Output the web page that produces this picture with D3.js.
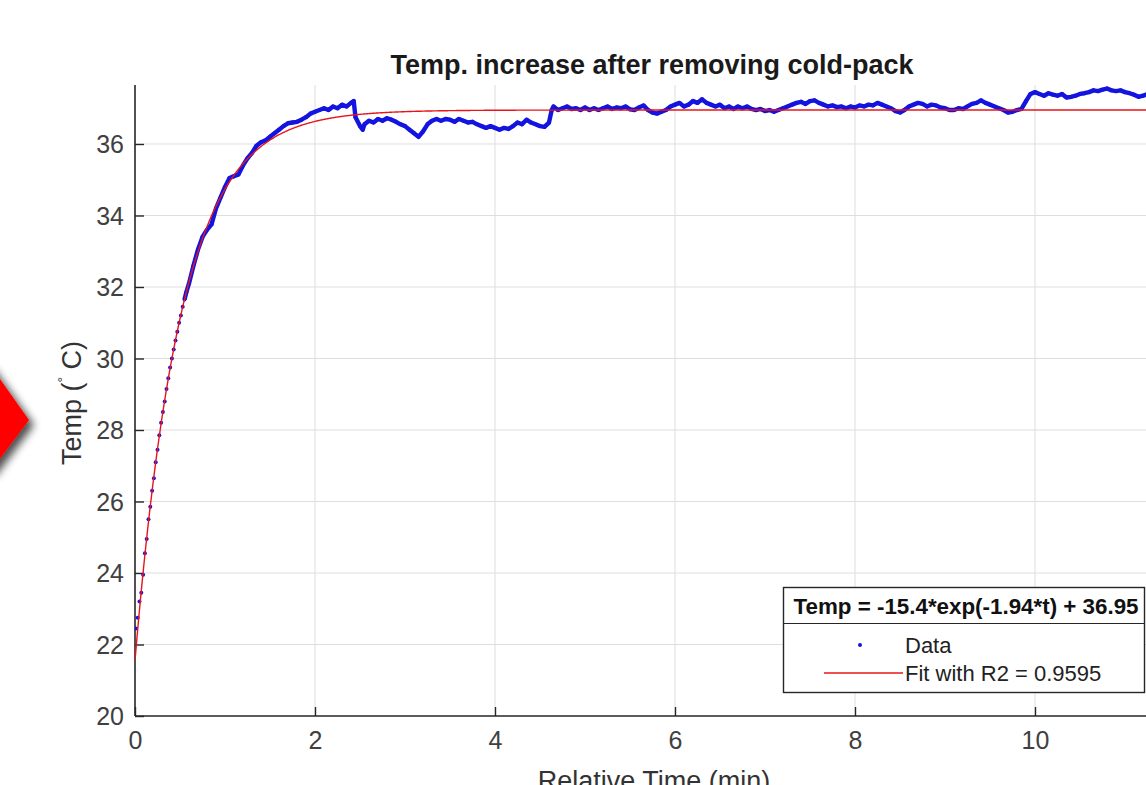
<!DOCTYPE html>
<html><head><meta charset="utf-8">
<script src="https://cdn.jsdelivr.net/npm/d3@7"></script>
<style>body{margin:0;background:#fff;overflow:hidden}svg{display:block}</style>
</head><body>
<svg id="chart" width="1146" height="785"></svg>
<script>
// ---- data ----
const timeMin = [0.01,0.03,0.05,0.07,0.09,0.11,0.13,0.15,0.17,0.19,0.21,0.23,0.25,0.27,0.29,0.31,0.33,0.35,0.37,0.39,0.41,0.43,0.45,0.47,0.49,0.51,0.53,0.55,0.57,
0.60,0.65,0.70,0.75,0.80,0.85,0.90,0.95,1.00,1.05,1.10,1.15,1.20,1.25,1.30,1.35,1.40,1.45,1.50,1.55,1.60,1.65,1.70,1.75,1.80,1.85,1.90,1.95,2.00,2.05,2.10,2.15,2.20,2.25,2.30,2.35,2.40,2.43,
2.45,2.50,2.53,2.55,2.60,2.65,2.70,2.75,2.80,2.85,2.90,2.95,3.00,3.05,3.10,3.15,3.20,3.25,3.30,3.35,3.40,3.45,3.50,3.55,3.60,3.65,3.70,3.75,3.80,3.85,3.90,3.95,4.00,4.05,4.10,4.15,4.20,4.25,4.30,4.35,4.40,4.45,4.50,4.55,4.60,4.63,
4.65,4.70,4.75,4.80,4.85,4.90,4.95,5.00,5.05,5.10,5.15,5.20,5.25,5.30,5.35,5.40,5.45,5.50,5.55,5.60,5.65,5.70,5.75,5.80,5.85,5.90,5.95,6.00,6.05,6.10,6.15,6.20,6.25,6.30,6.35,6.40,6.45,6.50,6.55,6.60,6.65,6.70,6.75,6.80,6.85,6.90,6.95,
7.00,7.05,7.10,7.15,7.20,7.25,7.30,7.35,7.40,7.45,7.50,7.55,7.60,7.65,7.70,7.75,7.80,7.85,7.90,7.95,8.00,8.05,8.10,8.15,8.20,8.25,8.30,8.35,8.40,8.45,8.50,8.55,8.60,8.65,8.70,8.75,8.80,8.85,8.90,8.95,
9.00,9.05,9.10,9.15,9.20,9.25,9.30,9.35,9.40,9.45,9.50,9.55,9.60,9.65,9.70,9.75,9.80,9.85,9.90,9.95,10.00,10.05,10.10,10.15,10.20,10.25,10.30,10.35,10.40,10.45,10.50,10.55,10.60,10.65,10.70,10.75,10.80,10.85,10.90,10.95,11.00,11.05,11.10,11.15,11.20,11.25,11.30];
const tempC = [22.45,22.75,23.2,23.45,23.95,24.55,24.95,25.5,25.85,26.3,26.65,27.1,27.45,27.85,28.2,28.5,28.8,29.15,29.45,29.75,30.0,30.25,30.5,30.75,31.0,31.2,31.45,31.65,31.85,
32.1,32.6,33.05,33.4,33.6,33.75,34.2,34.5,34.8,35.05,35.1,35.15,35.4,35.6,35.75,35.95,36.05,36.1,36.2,36.3,36.4,36.5,36.58,36.6,36.62,36.68,36.75,36.85,36.9,36.95,37.0,36.95,37.05,37.0,37.1,37.05,37.15,37.2,
36.75,36.5,36.4,36.55,36.65,36.6,36.7,36.65,36.72,36.68,36.62,36.55,36.5,36.4,36.3,36.2,36.35,36.55,36.65,36.7,36.65,36.7,36.68,36.62,36.7,36.65,36.6,36.62,36.55,36.5,36.45,36.5,36.45,36.4,36.45,36.42,36.5,36.6,36.55,36.68,36.6,36.55,36.5,36.48,36.6,36.95,
37.05,36.95,37.0,37.05,36.98,37.0,36.95,37.02,36.95,37.0,36.95,37.0,37.05,36.98,37.02,37.0,37.05,36.97,36.95,37.02,37.08,36.95,36.88,36.85,36.9,36.95,37.05,37.1,37.15,37.05,37.1,37.2,37.15,37.25,37.15,37.1,37.05,37.1,37.0,37.05,36.98,37.05,37.0,37.05,36.98,36.95,36.98,
36.92,36.95,36.9,36.95,37.0,37.05,37.1,37.15,37.18,37.12,37.2,37.22,37.15,37.1,37.05,37.08,37.03,37.05,37.0,37.05,37.02,37.08,37.05,37.1,37.08,37.15,37.1,37.05,37.0,36.92,36.88,36.95,37.05,37.1,37.15,37.12,37.05,37.1,37.08,37.02,
37.0,36.95,36.95,37.0,36.98,37.05,37.12,37.15,37.22,37.15,37.1,37.05,37.0,36.95,36.88,36.9,36.95,36.98,37.2,37.4,37.45,37.4,37.35,37.42,37.38,37.35,37.4,37.3,37.32,37.35,37.4,37.42,37.45,37.5,37.48,37.52,37.55,37.5,37.48,37.5,37.45,37.42,37.38,37.32,37.35,37.4,37.38];
// fit shown in the legend: Temp = a*exp(b*t) + c
const fitA = -15.4, fitB = -1.94, fitC = 36.95;
const xTicks = [0,2,4,6,8,10];
const yTicks = [20,22,24,26,28,30,32,34,36];
const titleText = "Temp. increase after removing cold-pack";
const xLabelText = "Relative Time (min)";
const legendTitle = "Temp = -15.4*exp(-1.94*t) + 36.95";
const legendLabels = ["Data", "Fit with R2 = 0.9595"];

// ---- drawing ----
const svg = d3.select("#chart");
const font = "'Liberation Sans', Arial, Helvetica, sans-serif";
const axisCol = "#262626";
const blue = "#1414e0";
const red = "#e8141a";
const x = d3.scaleLinear().domain([0,12]).range([135,1215]);
const y = d3.scaleLinear().domain([20,37.65]).range([716,85]);

// red arrow decoration on the left
const defs = svg.append("defs");
const f = defs.append("filter").attr("id","sh").attr("x","-50%").attr("y","-50%").attr("width","200%").attr("height","200%");
f.append("feGaussianBlur").attr("in","SourceAlpha").attr("stdDeviation",4).attr("result","b");
f.append("feOffset").attr("in","b").attr("dx",5).attr("dy",5).attr("result","o");
f.append("feComponentTransfer").attr("in","o").attr("result","o2").append("feFuncA").attr("type","linear").attr("slope",0.7);
const fm = f.append("feMerge"); fm.append("feMergeNode").attr("in","o2"); fm.append("feMergeNode").attr("in","SourceGraphic");
svg.append("path").attr("d","M-40,365 L-10,365 L29,420 L-10,472 L-40,472 Z").attr("fill","#ff0000").attr("filter","url(#sh)");

defs.append("clipPath").attr("id","clip").append("rect").attr("x",135).attr("y",85).attr("width",1080).attr("height",631);

// grid
const g = svg.append("g");
g.selectAll(".gx").data(xTicks.filter(d=>d>0)).join("line")
  .attr("x1",d=>x(d)).attr("x2",d=>x(d)).attr("y1",85).attr("y2",716)
  .attr("stroke","#dedede").attr("stroke-width",1);
g.selectAll(".gy").data(yTicks.filter(d=>d>20)).join("line")
  .attr("x1",135).attr("x2",1215).attr("y1",d=>y(d)).attr("y2",d=>y(d))
  .attr("stroke","#dedede").attr("stroke-width",1);

// axes (MATLAB-style inward ticks)
const xAxis = d3.axisBottom(x).tickValues(xTicks).tickSize(-9).tickPadding(20).tickFormat(d3.format("d"));
const yAxis = d3.axisLeft(y).tickValues(yTicks).tickSize(-9).tickPadding(20).tickFormat(d3.format("d"));
const gx = svg.append("g").attr("transform","translate(0,716)").call(xAxis);
const gy = svg.append("g").attr("transform","translate(135,0)").call(yAxis);
gx.select(".domain").attr("d","M135,0H1215");
gy.select(".domain").attr("d","M0,716V85");
[gx,gy].forEach(a=>{
  a.select(".domain").attr("stroke",axisCol).attr("stroke-width",1.6);
  a.selectAll(".tick line").attr("stroke",axisCol).attr("stroke-width",1.4);
  a.selectAll(".tick text").attr("fill","#404040").attr("font-family",font).attr("font-size",25);
});
gx.selectAll(".tick text").attr("y",12).attr("dy","0.85em");
gy.selectAll(".tick text").attr("x",-11).attr("dy","0.35em");

// data
const plot = svg.append("g").attr("clip-path","url(#clip)");
const pts = timeMin.map((t,i)=>[t,tempC[i]]);
plot.append("path").datum(pts.filter(p=>p[0]>=0.55))
  .attr("d",d3.line().x(d=>x(d[0])).y(d=>y(d[1])))
  .attr("fill","none").attr("stroke",blue).attr("stroke-width",4.4).attr("stroke-linejoin","round");
plot.selectAll("circle").data(pts).join("circle")
  .attr("cx",d=>x(d[0])).attr("cy",d=>y(d[1])).attr("r",2).attr("fill",blue);

// fit line
const fitT = d3.range(0, 12.001, 0.01);
plot.append("path").datum(fitT)
  .attr("d",d3.line().x(t=>x(t)).y(t=>y(fitA*Math.exp(fitB*t)+fitC)))
  .attr("fill","none").attr("stroke",red).attr("stroke-width",1.4);

// title and labels
svg.append("text").attr("x",652).attr("y",74).attr("text-anchor","middle")
  .attr("font-family",font).attr("font-weight","bold").attr("font-size",27).attr("fill","#1a1a1a").text(titleText);
svg.append("text").attr("x",654).attr("y",790).attr("text-anchor","middle")
  .attr("font-family",font).attr("font-size",27).attr("fill","#333").text(xLabelText);
const yl = svg.append("text").attr("transform","translate(81,403) rotate(-90)").attr("text-anchor","middle")
  .attr("font-family",font).attr("font-size",27).attr("fill","#333");
yl.append("tspan").text("Temp (");
yl.append("tspan").attr("font-size",14).attr("dy",-13).text("°");
yl.append("tspan").attr("dy",13).text(" C)");

// legend
const lg = svg.append("g");
lg.append("rect").attr("x",783.5).attr("y",587.5).attr("width",361).attr("height",105)
  .attr("fill","#fff").attr("stroke","#262626").attr("stroke-width",1.4);
lg.append("line").attr("x1",783.5).attr("x2",1144.5).attr("y1",623.5).attr("y2",623.5).attr("stroke","#262626").attr("stroke-width",1.2);
lg.append("text").attr("x",966).attr("y",614).attr("text-anchor","middle")
  .attr("font-family",font).attr("font-weight","bold").attr("font-size",21.5).attr("fill","#111")
  .attr("textLength",345).attr("lengthAdjust","spacingAndGlyphs").text(legendTitle);
lg.append("circle").attr("cx",860).attr("cy",645).attr("r",2).attr("fill",blue);
lg.append("line").attr("x1",824).attr("x2",903).attr("y1",673).attr("y2",673).attr("stroke",red).attr("stroke-width",1.4);
lg.append("text").attr("x",905).attr("y",653).attr("font-family",font).attr("font-size",22).attr("fill","#222").text(legendLabels[0]);
lg.append("text").attr("x",905).attr("y",681).attr("font-family",font).attr("font-size",22).attr("fill","#222").text(legendLabels[1]);
</script>
</body></html>
